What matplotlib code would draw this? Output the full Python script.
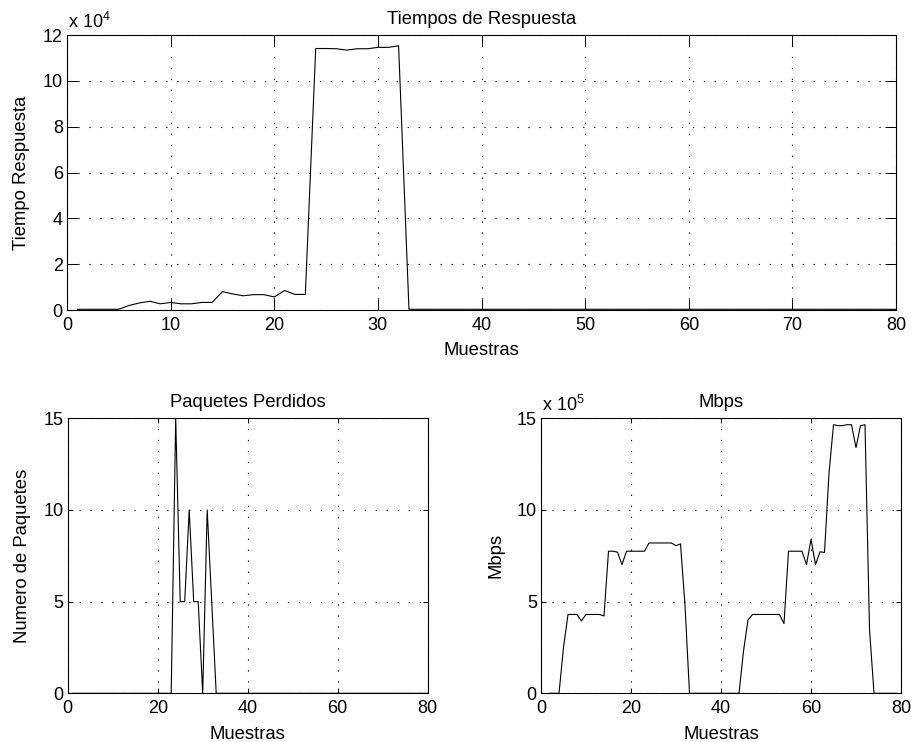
import numpy as np
import matplotlib
matplotlib.use("Agg")
import matplotlib.pyplot as plt
from matplotlib.ticker import FuncFormatter, MultipleLocator

plt.rcParams['font.family'] = ['Liberation Sans', 'DejaVu Sans']
plt.rcParams['mathtext.default'] = 'regular'
plt.rcParams['mathtext.fontset'] = 'custom'
plt.rcParams['mathtext.rm'] = 'Liberation Sans'
plt.rcParams['lines.scale_dashes'] = False

# ---- data ----
muestras_tiempo = list(range(1, 81))
tiempo_respuesta = [
    300, 300, 300, 300, 300, 2000, 3100, 3800, 2700, 3300,
    2700, 2700, 3300, 3300, 8000, 7000, 6200, 6700, 6700, 5700,
    8500, 6800, 6800, 114100, 114100, 114000, 113400, 114000, 114000, 114600,
    114600, 115300, 300, 300, 300, 300, 300, 300, 300, 300,
    300, 300, 300, 300, 300, 300, 300, 300, 300, 300,
    300, 300, 300, 300, 300, 300, 300, 300, 300, 300,
    300, 300, 300, 300, 300, 300, 300, 300, 300, 300,
    300, 300, 300, 300, 300, 300, 300, 300, 300, 300,
]

muestras_paquetes = list(range(1, 81))
paquetes_perdidos = [
    0, 0, 0, 0, 0, 0, 0, 0, 0, 0,
    0, 0, 0, 0, 0, 0, 0, 0, 0, 0,
    0, 0, 0, 15, 5, 5, 10, 5, 5, 0,
    10, 5, 0, 0, 0, 0, 0, 0, 0, 0,
    0, 0, 0, 0, 0, 0, 0, 0, 0, 0,
    0, 0, 0, 0, 0, 0, 0, 0, 0, 0,
    0, 0, 0, 0, 0, 0, 0, 0, 0, 0,
    0, 0, 0, 0, 0, 0, 0, 0, 0, 0,
]

muestras_mbps = list(range(2, 80))
mbps = [
    0, 0, 0, 2.5e5, 4.3e5, 4.3e5, 4.3e5, 3.95e5, 4.3e5, 4.3e5,
    4.3e5, 4.3e5, 4.22e5, 7.75e5, 7.75e5, 7.7e5, 7.02e5, 7.75e5, 7.75e5, 7.75e5,
    7.75e5, 7.75e5, 8.2e5, 8.2e5, 8.2e5, 8.2e5, 8.2e5, 8.2e5, 8.05e5, 8.15e5,
    4.8e5, 0, 0, 0, 0, 0, 0, 0, 0, 0,
    0, 0, 0, 2.3e5, 4.0e5, 4.3e5, 4.3e5, 4.3e5, 4.3e5, 4.3e5,
    4.3e5, 4.3e5, 3.8e5, 7.75e5, 7.75e5, 7.75e5, 7.75e5, 7.02e5, 8.4e5, 7.02e5,
    7.72e5, 7.68e5, 12.0e5, 14.65e5, 14.6e5, 14.6e5, 14.65e5, 14.65e5, 13.4e5, 14.6e5,
    14.65e5, 3.5e5, 0, 0, 0, 0, 0, 0,
]

W, H = 914, 742
fig = plt.figure(figsize=(W / 100, H / 100), dpi=100)


def fpos(left, top, right, bottom):
    return [left / W, 1 - bottom / H, (right - left) / W, (bottom - top) / H]


ax_top = fig.add_axes(fpos(67, 35, 896, 310))
ax_bl = fig.add_axes(fpos(67.7, 418.3, 427.7, 693.3))
ax_br = fig.add_axes(fpos(541, 418.3, 901, 693.3))

TICK_FS = 13
LABEL_FS = 13.3


def style(ax, ticklen):
    ax.grid(True, color='black', linestyle=(0, (0.9, 7.0)), linewidth=0.8)
    ax.tick_params(direction='in', top=True, right=True, length=ticklen,
                   width=0.7, labelsize=TICK_FS)
    ax.tick_params(axis='x', pad=5)
    ax.tick_params(axis='y', pad=3)
    for s in ax.spines.values():
        s.set_linewidth(0.8)
    ax.set_axisbelow(False)


ax_top.plot(muestras_tiempo, tiempo_respuesta, color='black', linewidth=0.8)
ax_top.set_xlim(0, 80)
ax_top.set_ylim(0, 12e4)
ax_top.xaxis.set_major_locator(MultipleLocator(10))
ax_top.yaxis.set_major_locator(MultipleLocator(2e4))
ax_top.yaxis.set_major_formatter(FuncFormatter(lambda v, p: f"{v / 1e4:g}"))
style(ax_top, 8)
ax_top.set_title('Tiempos de Respuesta', fontsize=LABEL_FS, pad=8)
ax_top.set_xlabel('Muestras', fontsize=LABEL_FS, labelpad=6)
ax_top.set_ylabel('Tiempo Respuesta', fontsize=LABEL_FS, labelpad=9)
ax_top.text(0.001, 1.012, r'x 10$^{4}$', transform=ax_top.transAxes,
            fontsize=TICK_FS, ha='left', va='bottom')

ax_bl.plot(muestras_paquetes, paquetes_perdidos, color='black', linewidth=0.8)
ax_bl.set_xlim(0, 80)
ax_bl.set_ylim(0, 15)
ax_bl.xaxis.set_major_locator(MultipleLocator(20))
ax_bl.yaxis.set_major_locator(MultipleLocator(5))
style(ax_bl, 3.6)
ax_bl.set_title('Paquetes Perdidos', fontsize=LABEL_FS, pad=8)
ax_bl.set_xlabel('Muestras', fontsize=LABEL_FS, labelpad=6)
ax_bl.set_ylabel('Numero de Paquetes', fontsize=LABEL_FS, labelpad=9)

ax_br.plot(muestras_mbps, mbps, color='black', linewidth=0.8)
ax_br.set_xlim(0, 80)
ax_br.set_ylim(0, 15e5)
ax_br.xaxis.set_major_locator(MultipleLocator(20))
ax_br.yaxis.set_major_locator(MultipleLocator(5e5))
ax_br.yaxis.set_major_formatter(FuncFormatter(lambda v, p: f"{v / 1e5:g}"))
style(ax_br, 3.6)
ax_br.set_title('Mbps', fontsize=LABEL_FS, pad=8)
ax_br.set_xlabel('Muestras', fontsize=LABEL_FS, labelpad=6)
ax_br.set_ylabel('Mbps', fontsize=LABEL_FS, labelpad=9)
ax_br.text(0.003, 1.012, r'x 10$^{5}$', transform=ax_br.transAxes,
           fontsize=TICK_FS, ha='left', va='bottom')

fig.savefig('out.png', dpi=100)
